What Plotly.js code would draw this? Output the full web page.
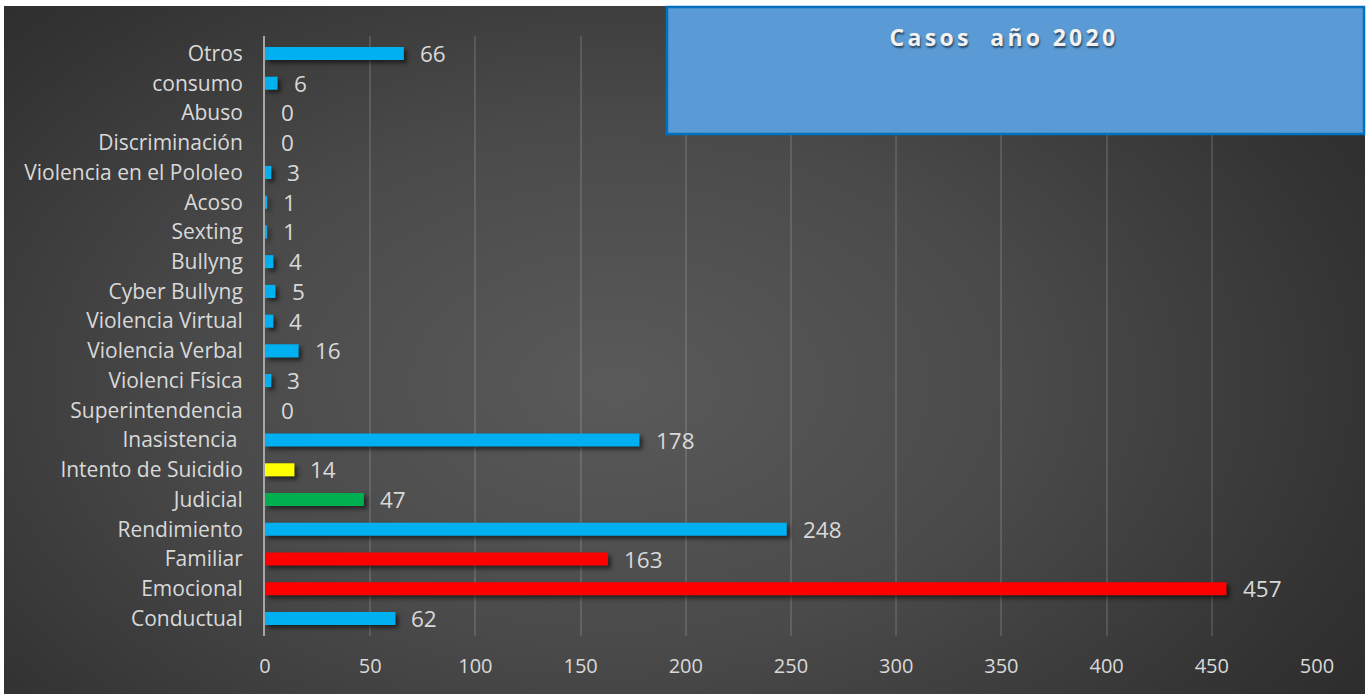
<!DOCTYPE html>
<html>
<head>
<meta charset="utf-8">
<script src="https://cdn.plot.ly/plotly-3.0.1.min.js"></script>
<style>
  html, body { margin: 0; padding: 0; background: #ffffff; }
  #wrap { position: relative; width: 1367px; height: 694px; background: #ffffff; overflow: hidden; }
  #bg { position: absolute; left: 4px; top: 6px; width: 1361px; height: 688px;
        background: radial-gradient(ellipse 75% 95% at 45% 55%, #5a5a5a 0%, #4a4a4a 40%, #333333 75%, #262626 100%); }
  #chart { position: absolute; left: 0; top: 0; width: 1367px; height: 694px; }
  #chart .trace.bars .point path { filter: drop-shadow(3px 3px 2px rgba(0,0,0,0.55)); }
  #chart .gtitle { letter-spacing: 3.3px; }
</style>
</head>
<body>
<div id="wrap"><div id="bg"></div><div id="chart"></div></div>
<script>
// Data (bottom to top, as drawn)
const categories = [
  "Conductual", "Emocional", "Familiar", "Rendimiento", "Judicial",
  "Intento de Suicidio", "Inasistencia\u00a0", "Superintendencia", "Violenci Física",
  "Violencia Verbal", "Violencia Virtual", "Cyber Bullyng", "Bullyng", "Sexting",
  "Acoso", "Violencia en el Pololeo", "Discriminación", "Abuso", "consumo", "Otros"
];
const values = [62, 457, 163, 248, 47, 14, 178, 0, 3, 16, 4, 5, 4, 1, 1, 3, 0, 0, 6, 66];
const barColors = [
  "#00B0F0", "#FF0000", "#FF0000", "#00B0F0", "#00B050",
  "#FFFF00", "#00B0F0", "#00B0F0", "#00B0F0",
  "#00B0F0", "#00B0F0", "#00B0F0", "#00B0F0", "#00B0F0",
  "#00B0F0", "#00B0F0", "#00B0F0", "#00B0F0", "#00B0F0", "#00B0F0"
];
const xTicks = [0, 50, 100, 150, 200, 250, 300, 350, 400, 450, 500];
const chartTitle = "Casos&nbsp;&nbsp;año 2020";

const FONT = "'Open Sans', 'Noto Sans', sans-serif";
const TXT = "#d9d9d9";

const trace = {
  type: "bar",
  orientation: "h",
  x: values,
  y: categories,
  marker: { color: barColors, line: { width: 0 } },
  hoverinfo: "x+y",
  cliponaxis: false
};

const annotations = values.map((v, i) => ({
  x: v, y: categories[i], xref: "x", yref: "y",
  text: String(v), showarrow: false,
  xanchor: "left", yanchor: "middle", xshift: 14,
  font: { family: FONT, size: 22.5, color: TXT }
}));

const layout = {
  width: 1367, height: 694,
  margin: { l: 265, r: 50, t: 36, b: 58, pad: 0 },
  paper_bgcolor: "rgba(0,0,0,0)",
  plot_bgcolor: "rgba(0,0,0,0)",
  showlegend: false,
  bargap: 0.56,
  font: { family: FONT, color: TXT, size: 21 },
  title: {
    text: chartTitle,
    font: { family: FONT, size: 23, color: "#f2f2f2", weight: 700, shadow: "1px 2px 2px rgba(0,0,0,0.55)" },
    xref: "paper", x: (1004 - 265) / 1052, xanchor: "center",
    yref: "container", y: 1 - 38 / 694, yanchor: "middle"
  },
  xaxis: {
    range: [0, 500],
    tickvals: xTicks,
    ticktext: xTicks.map(String),
    showgrid: true,
    gridcolor: "rgba(255,255,255,0.13)",
    gridwidth: 1.5,
    zeroline: false,
    showline: false,
    ticks: "outside", ticklen: 12, tickcolor: "rgba(0,0,0,0)",
    tickfont: { family: FONT, size: 20, color: TXT },
    fixedrange: true
  },
  yaxis: {
    type: "category",
    categoryorder: "array",
    categoryarray: categories,
    showgrid: false,
    zeroline: false,
    showline: true,
    linecolor: "#a6a6a6",
    linewidth: 2,
    ticks: "outside", ticklen: 16, tickcolor: "rgba(0,0,0,0)",
    tickfont: { family: FONT, size: 21, color: TXT },
    automargin: false,
    fixedrange: true
  },
  shapes: [{
    type: "rect", layer: "above",
    xref: "paper", yref: "paper",
    x0: (667 - 265) / 1052, x1: (1364 - 265) / 1052,
    y0: (636 - 134) / 600, y1: (636 - 7) / 600,
    fillcolor: "#5B9BD5",
    line: { color: "#0070C0", width: 2.5 }
  }],
  annotations: annotations
};

Plotly.newPlot("chart", [trace], layout, { displayModeBar: false, staticPlot: false });
</script>
</body>
</html>
